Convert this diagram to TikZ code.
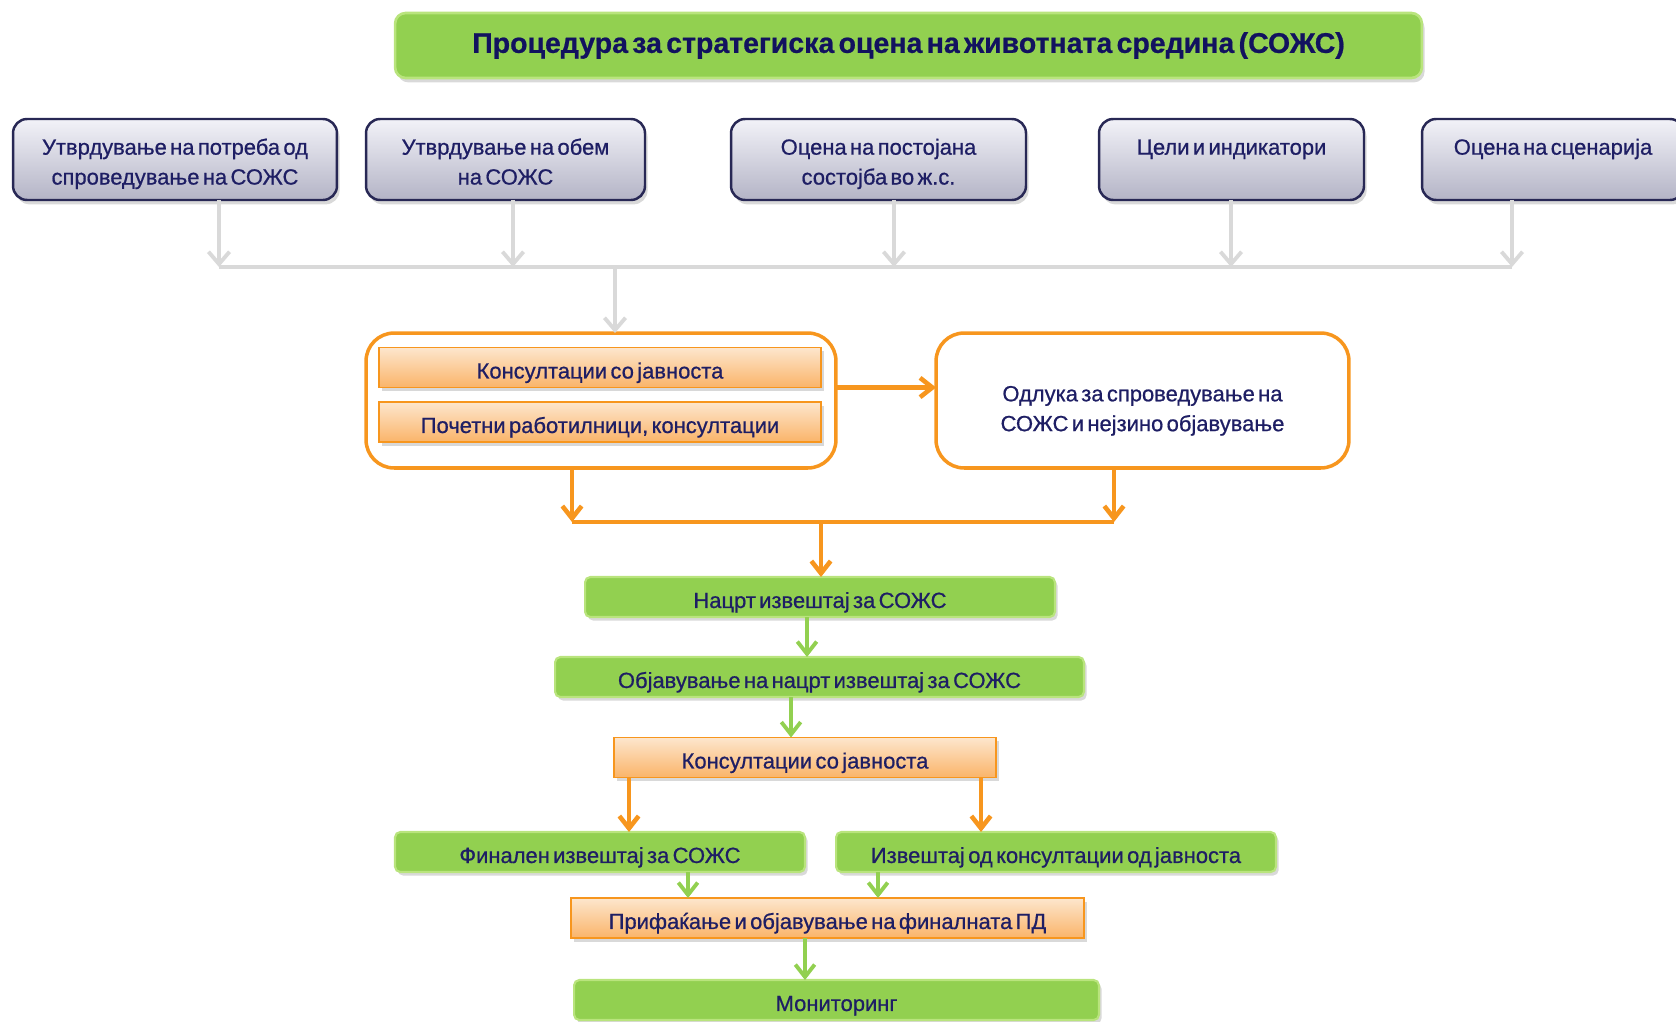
\documentclass[tikz,border=0pt]{standalone}
\usepackage{fontspec}
\setmainfont{Liberation Sans}[WordSpace=0.55, FakeBold=0.7]
\usetikzlibrary{arrows.meta,shadows}

\definecolor{ink}{RGB}{30,30,100}
\definecolor{deepink}{RGB}{18,18,95}
\definecolor{leaf}{RGB}{146,208,80}
\definecolor{leafedge}{RGB}{185,228,125}
\definecolor{amber}{RGB}{247,150,30}
\definecolor{peach}{RGB}{253,230,205}
\definecolor{apricot}{RGB}{250,180,105}
\definecolor{mist}{RGB}{242,242,248}
\definecolor{slate}{RGB}{180,180,198}
\definecolor{navyedge}{RGB}{40,40,85}
\definecolor{pale}{RGB}{217,217,217}

\tikzset{
  titlebox/.style={fill=leaf, draw=leafedge, line width=1.5pt, rounded corners=6pt,
    minimum width=20.54cm, minimum height=1.3cm, text=deepink,
    font=\fontsize{16.2}{20}\selectfont\bfseries,
    drop shadow={opacity=0.3, shadow xshift=1.5pt, shadow yshift=-2.5pt}},
  stagebox/.style={top color=mist, bottom color=slate, draw=navyedge, line width=1.4pt,
    rounded corners=8pt, minimum height=1.62cm, align=center,
    text height=28.5pt, text depth=0pt, font=\fontsize{12.5}{17}\selectfont,
    drop shadow={opacity=0.3, shadow xshift=1.5pt, shadow yshift=-2.5pt}},
  groupbox/.style={fill=white, draw=amber, line width=2pt, rounded corners=16pt,
    minimum height=2.7cm, align=center, font=\fontsize{12.5}{17}\selectfont},
  orangebar/.style={top color=peach, bottom color=apricot, draw=amber, line width=1pt,
    minimum height=0.8cm, text height=12.5pt, text depth=0pt,
    font=\fontsize{12.5}{15}\selectfont,
    drop shadow={opacity=0.3, shadow xshift=1.5pt, shadow yshift=-2pt}},
  greenbar/.style={fill=leaf, draw=leafedge, line width=1.2pt, rounded corners=3pt,
    minimum height=0.8cm, text height=12.5pt, text depth=0pt,
    font=\fontsize{12.5}{15}\selectfont,
    drop shadow={opacity=0.3, shadow xshift=1.5pt, shadow yshift=-2pt}},
  greyline/.style={draw=pale, line width=2.2pt},
  greyarr/.style={greyline, -{Straight Barb[length=7pt,width=12pt]}},
  orangeline/.style={draw=amber, line width=2.6pt},
  orangearr/.style={orangeline, -{Straight Barb[length=7pt,width=11pt]}},
  greenarr/.style={draw=leaf, line width=2.2pt, -{Straight Barb[length=7pt,width=11pt]}}
}

\begin{document}
\begin{tikzpicture}[x=0.02cm, y=-0.02cm,
  every node/.style={text=ink, inner sep=0pt, outer sep=0pt}]
  \useasboundingbox (0,0) rectangle (1676,1021);
  \clip (0,0) rectangle (1676,1021);

  % title
  \node[titlebox] at (908.5,45.5) (title) {Процедура за стратегиска оцена на животната средина (СОЖС)};

  % first stages
  \node[stagebox, minimum width=6.48cm] at (175,159.5) (need) {Утврдување на потреба од\\спроведување на СОЖС};
  \node[stagebox, minimum width=5.58cm] at (505.5,159.5) (scope) {Утврдување на обем\\на СОЖС};
  \node[stagebox, minimum width=5.9cm] at (878.5,159.5) (state) {Оцена на постојана\\состојба во ж.с.};
  \node[stagebox, minimum width=5.3cm] at (1231.5,159.5) (goals) {Цели и индикатори\\\mbox{}};
  \node[stagebox, minimum width=5.24cm] at (1553,159.5) (scen) {Оцена на сценарија\\\mbox{}};

  \coordinate (j1) at (219,267);
  \coordinate (j2) at (513,267);
  \coordinate (j3) at (894,267);
  \coordinate (j4) at (1231,267);
  \coordinate (j5) at (1512,267);
  \coordinate (jm) at (615,267);

  % consultations and decision
  \node[groupbox, minimum width=9.4cm] at (601,400.5) (group) {};
  \node[orangebar, minimum width=8.84cm] at (600,367.5) (public) {Консултации со јавноста};
  \node[orangebar, minimum width=8.84cm] at (600,422) (work) {Почетни работилници, консултации};
  \node[groupbox, minimum width=8.26cm, text height=34.9pt, text depth=0pt] at (1142.5,400.5) (decide) {Одлука за спроведување на\\СОЖС и нејзино објавување};

  \coordinate (m1) at (572,522);
  \coordinate (m2) at (1114,522);
  \coordinate (mm) at (821,522);

  % report chain
  \node[greenbar, minimum width=9.4cm] at (820,597) (draft) {Нацрт извештај за СОЖС};
  \node[greenbar, minimum width=10.58cm] at (819.5,677) (pub) {Објавување на нацрт извештај за СОЖС};
  \node[orangebar, minimum width=7.64cm] at (805,757.5) (public2) {Консултации со јавноста};
  \node[greenbar, minimum width=8.2cm] at (600,852) (final) {Финален извештај за СОЖС};
  \node[greenbar, minimum width=8.8cm] at (1056,852) (report) {Извештај од консултации од јавноста};
  \node[orangebar, minimum width=10.26cm] at (827.5,918) (adopt) {Прифаќање и објавување на финалната ПД};
  \node[greenbar, minimum width=10.5cm] at (836.5,1000) (monitor) {Мониторинг};

  % grey connectors
  \draw[greyarr] (need.south -| j1) -- (j1);
  \draw[greyarr] (scope.south -| j2) -- (j2);
  \draw[greyarr] (state.south -| j3) -- (j3);
  \draw[greyarr] (goals.south -| j4) -- (j4);
  \draw[greyarr] (scen.south -| j5) -- (j5);
  \draw[greyline] (j1) -- (j5);
  \draw[greyarr] (jm) -- (group.north -| jm);

  % orange connectors
  \draw[orangearr] (group.east |- public.south) -- (decide.west |- public.south);
  \draw[orangearr] (group.south -| m1) -- (m1);
  \draw[orangearr] (decide.south -| m2) -- (m2);
  \draw[orangeline] (m1) -- (m2);
  \draw[orangearr] (mm) -- (draft.north -| mm);
  \draw[orangearr] (629,0 |- public2.south) -- (629,0 |- final.north);
  \draw[orangearr] (981,0 |- public2.south) -- (981,0 |- report.north);

  % green connectors
  \draw[greenarr] (807,0 |- draft.south) -- (807,0 |- pub.north);
  \draw[greenarr] (791,0 |- pub.south) -- (791,0 |- public2.north);
  \draw[greenarr] (688,0 |- final.south) -- (688,0 |- adopt.north);
  \draw[greenarr] (878,0 |- report.south) -- (878,0 |- adopt.north);
  \draw[greenarr] (805,0 |- adopt.south) -- (805,0 |- monitor.north);
\end{tikzpicture}
\end{document}
